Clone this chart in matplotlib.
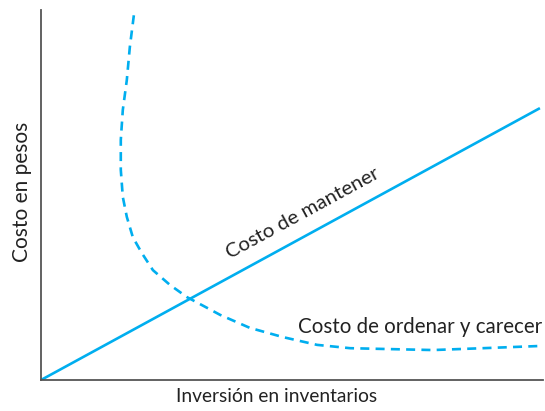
import matplotlib
matplotlib.use("Agg")
import matplotlib.pyplot as plt

# costo de mantener (recta) y costo de ordenar y carecer (curva punteada)
mantener_x = [0.0, 9.94]
mantener_y = [0.0, 7.35]

ordenar_x = [1.85, 1.77, 1.71, 1.63, 1.59, 1.59, 1.63, 1.71, 1.83, 2.01, 2.23,
             2.57, 2.91, 3.31, 3.57, 4.16, 4.82, 5.50, 6.16, 6.81, 7.81, 8.80, 9.94]
ordenar_y = [9.86, 9.00, 8.11, 7.30, 6.49, 5.68, 4.95, 4.41, 3.86, 3.43, 2.97,
             2.57, 2.24, 1.95, 1.76, 1.41, 1.16, 0.95, 0.86, 0.84, 0.81, 0.86, 0.92]

azul = '#00AEEF'
texto = '#222222'
plt.rcParams['font.family'] = ['Lato', 'DejaVu Sans']
plt.rcParams['lines.scale_dashes'] = False

fig = plt.figure(figsize=(5.45, 4.11), dpi=100)
ax = fig.add_axes([0.0752, 0.0754, 0.921, 0.900])

ax.plot(mantener_x, mantener_y, color=azul, lw=1.9, solid_capstyle='butt')
ax.plot(ordenar_x, ordenar_y, color=azul, lw=1.9, dashes=(6.5, 4.5))

ax.set_xlim(0, 10)
ax.set_ylim(0, 10)
for s in ['top', 'right']:
    ax.spines[s].set_visible(False)
for s in ['left', 'bottom']:
    ax.spines[s].set_color('#555555')
    ax.spines[s].set_linewidth(1.3)
ax.set_xticks([])
ax.set_yticks([])

ax.text(5.22, 4.50, 'Costo de mantener', rotation=28.5, rotation_mode='anchor',
        ha='center', va='center', fontsize=14.7, color=texto)
ax.text(5.12, 1.43, 'Costo de ordenar y carecer', ha='left', va='center',
        fontsize=14.8, color=texto)

fig.text(277 / 545, 1 - 396 / 411, 'Inversión en inventarios', ha='center', va='center',
         fontsize=13.8, color=texto)
fig.text(22 / 545, 1 - 192 / 411, 'Costo en pesos', ha='center', va='center',
         rotation=90, fontsize=15, color=texto)

fig.savefig('out.png', dpi=100)
